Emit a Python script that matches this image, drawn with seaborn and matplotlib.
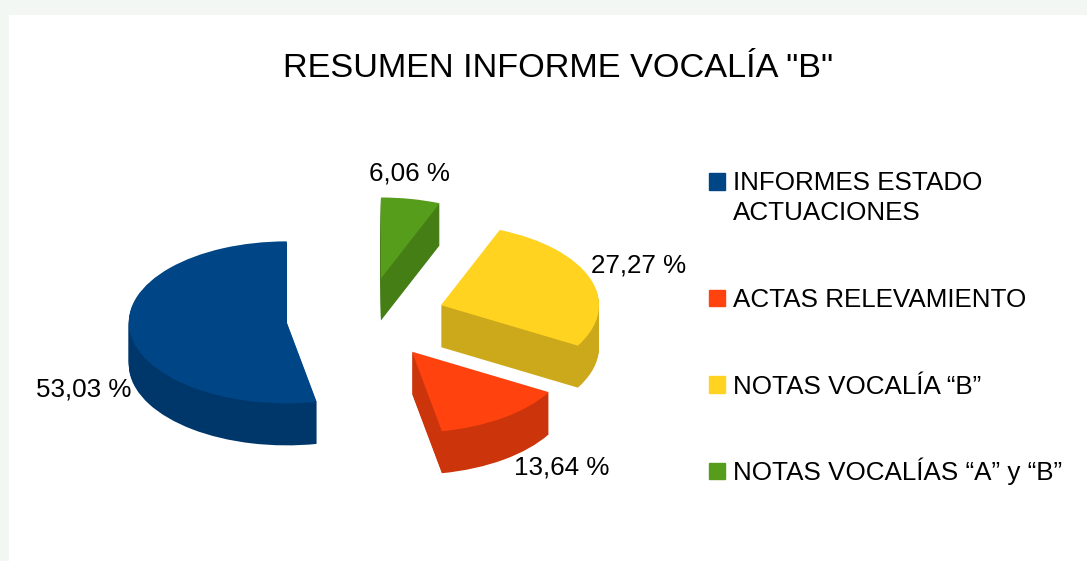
import numpy as np
import matplotlib
matplotlib.use("Agg")
import matplotlib.pyplot as plt
from matplotlib.legend_handler import HandlerPatch
from matplotlib.patches import Patch, Rectangle
import seaborn as sns

# data
title = 'RESUMEN INFORME VOCALÍA "B"'
categories = ["INFORMES ESTADO\nACTUACIONES", "ACTAS RELEVAMIENTO", "NOTAS VOCALÍA “B”", "NOTAS VOCALÍAS “A” y “B”"]
percents = [53.03, 13.64, 27.27, 6.06]
hex_colors = ["#004586", "#ff420e", "#ffd320", "#579d1c"]

W, H = 1087, 561
sns.set_theme(style="white")
plt.rcParams["font.family"] = ["Liberation Sans", "DejaVu Sans"]

top_colors = sns.color_palette(hex_colors)
side_colors = [tuple(np.array(c) * 0.8) for c in top_colors]

fig = plt.figure(figsize=(W / 100, H / 100), dpi=100, facecolor="#f2f7f4")
ax = fig.add_axes([9 / W, 0, (W - 9) / W, (H - 15) / H])

# pixel size of the flattened pie
rx, ry, depth = 158, 81, 42
cx, cy = 365.9, 318.5
explode = [0.503] * len(percents)

# the thickness is a stack of darker pies, then the top face
for d in np.arange(depth, 0, -1):
    ax.pie(percents, explode=explode, startangle=90, colors=side_colors,
           center=(0, -d / ry), wedgeprops={"linewidth": 0})
wedges, _ = ax.pie(percents, explode=explode, startangle=90, colors=top_colors,
                   wedgeprops={"linewidth": 0})

ax.set_aspect("auto")
ax.set_xlim((9 - cx) / rx, (W - cx) / rx)
ax.set_ylim((cy - H) / ry, (cy - 15) / ry)
ax.set_frame_on(True)
ax.set_facecolor("white")
sns.despine(ax=ax, left=True, bottom=True)


def px_text(x, y, s, size):
    fig.text(x / W, 1 - y / H, s, ha="center", va="baseline", fontsize=size, color="black")


px_text(558, 77, title, 24.65)

# value labels, y is the baseline
label_pos = [(83.5, 396), (562, 475), (638.5, 273), (409, 181)]
for p, (x, y) in zip(percents, label_pos):
    px_text(x, y, f"{p:.2f} %".replace(".", ","), 18.7)


# key stands on the text baseline, the first one on the first of its two lines
def key_patch(legend, orig_handle, xdescent, ydescent, width, height, fontsize):
    return Rectangle((-xdescent, 0.7), width, width)


def first_key(legend, orig_handle, xdescent, ydescent, width, height, fontsize):
    return Rectangle((-xdescent, 13), width, width)


# one legend per row because the rows are not evenly spaced
legend_y = [225, 312, 398.5, 485]
for i, (c, l, y) in enumerate(zip(top_colors, categories, legend_y)):
    h = Patch(color=c, label=l)
    func = first_key if i == 0 else key_patch
    leg = fig.legend(handles=[h], loc="lower left", bbox_to_anchor=(709 / W, 1 - y / H),
                     bbox_transform=fig.transFigure, frameon=False, borderpad=0, borderaxespad=0,
                     fontsize=18.75, handlelength=0.62, handleheight=0.62, handletextpad=0.3,
                     labelcolor="black", handler_map={h: HandlerPatch(patch_func=func)})
    for t in leg.get_texts():
        t.set_linespacing(1.3)

fig.savefig("out.png", dpi=100, facecolor=fig.get_facecolor())
